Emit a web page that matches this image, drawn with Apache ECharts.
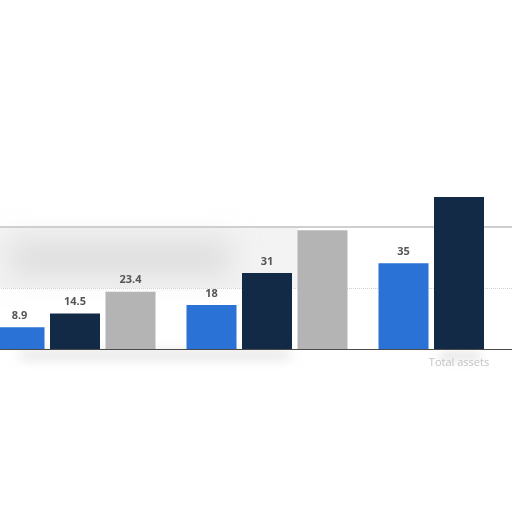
<!DOCTYPE html>
<html>
<head>
<meta charset="utf-8">
<style>
  html, body { margin: 0; padding: 0; background: #fff; }
  #chart { width: 512px; height: 512px; }
</style>
<script src="https://cdn.jsdelivr.net/npm/echarts@6/dist/echarts.min.js"></script>
</head>
<body>
<div id="chart"></div>
<script>
// values; missing labels / bars stay null
const categories = ['Fixed assets', 'Current assets', 'Total assets'];
const blueValues = [8.9, 18, 35];
const navyValues = [14.5, 31, 62];
const grayValues = [23.4, 48.5, null];
const hiddenLabels = [[], [2], [1]]; // per series: which points show no label
const yTicks = [0, 25, 50];

const chart = echarts.init(document.getElementById('chart'));

const labelStyle = {
    show: true,
    position: 'top',
    distance: 6,
    color: '#555',
    fontSize: 11,
    fontWeight: 'bold',
    fontFamily: 'Open Sans'
};

const makeSeries = (name, values, color, skip) => ({
    name: name,
    type: 'bar',
    clip: false,
    barWidth: 50,
    barGap: '11%',
    itemStyle: { color: color },
    label: {
        ...labelStyle,
        formatter: (p) => (skip.includes(p.dataIndex) ? '' : p.value)
    },
    data: values
});

// soft grey smudges: only the blurred shadow of an off-canvas rect is visible
const smudge = (x, y, w, h, blur, color) => ({
    type: 'rect',
    z: -10,
    silent: true,
    shape: { x: x, y: y - 2000, width: w, height: h },
    style: { fill: '#fff', shadowBlur: blur, shadowColor: color, shadowOffsetY: 2000 }
});

const option = {
    animation: false,
    backgroundColor: '#fff',
    graphic: [
        {
            type: 'rect',
            z: -20,
            silent: true,
            shape: { x: 0, y: 228, width: 298, height: 60 },
            style: { fill: '#f3f3f3' }
        },
        smudge(10, 240, 220, 36, 28, 'rgba(205,205,205,0.55)'),
        smudge(20, 351, 270, 8, 12, 'rgba(205,205,205,0.6)'),
        smudge(440, 352, 40, 8, 10, 'rgba(210,210,210,0.6)')
    ],
    grid: { left: -21, top: 226.5, width: 576, height: 122.5, outerBoundsMode: 'none', containLabel: false },
    xAxis: [
        {
            type: 'category',
            data: categories,
            axisLine: { show: true, lineStyle: { color: '#4a4a4a', width: 1 } },
            axisTick: { show: false },
            axisLabel: {
                interval: (i) => i === 2,
                color: '#c4c4c4',
                fontSize: 11,
                fontFamily: 'Open Sans',
                margin: 8
            }
        },
        {
            type: 'category',
            position: 'top',
            data: categories,
            axisLine: { show: true, lineStyle: { color: '#cfcfcf', width: 2 } },
            axisTick: { show: false },
            axisLabel: { show: false }
        }
    ],
    yAxis: {
        type: 'value',
        min: yTicks[0],
        max: yTicks[yTicks.length - 1],
        interval: 25,
        axisLine: { show: false },
        axisTick: { show: false },
        axisLabel: { show: false },
        splitLine: { show: true, lineStyle: { color: '#d2d2d2', type: 'dotted' } }
    },
    series: [
        makeSeries('Blue', blueValues, '#2a72d6', hiddenLabels[0]),
        makeSeries('Navy', navyValues, '#132a47', hiddenLabels[1]),
        makeSeries('Gray', grayValues, '#b4b4b4', hiddenLabels[2])
    ]
};

chart.setOption(option);
window.addEventListener('resize', () => chart.resize());
</script>
</body>
</html>
